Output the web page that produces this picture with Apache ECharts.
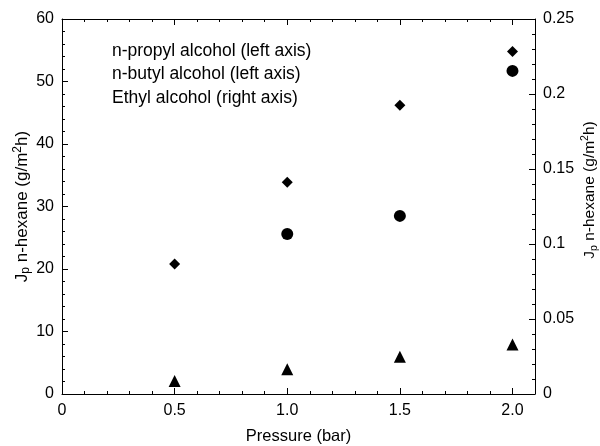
<!DOCTYPE html>
<html>
<head>
<meta charset="utf-8">
<script src="https://cdn.jsdelivr.net/npm/echarts@6/dist/echarts.min.js"></script>
<style>
html, body { margin: 0; padding: 0; background: #fff; }
#main { width: 600px; height: 446px; }
</style>
</head>
<body>
<div id="main"></div>
<script>
var pressure = [0.5, 1.0, 1.5, 2.0];
var propyl = [20.8, 33.9, 46.2, 54.8];
var butyl = [null, 25.6, 28.5, 51.7];
var ethyl = [0.0087, 0.0165, 0.0249, 0.033];
var seriesNames = ['n-propyl alcohol (left axis)', 'n-butyl alcohol (left axis)', 'Ethyl alcohol (right axis)'];
var xTicks = ['0', '0.5', '1.0', '1.5', '2.0'];

var font = 'Liberation Sans, Arial, sans-serif';

// [x, y] pairs, skip missing points
function pairs(ys) {
  var out = [];
  for (var i = 0; i < pressure.length; i++) {
    if (ys[i] != null) out.push([pressure[i], ys[i]]);
  }
  return out;
}

function xLabel(v) {
  var k = Math.round(v / 0.5);
  if (Math.abs(v - k * 0.5) < 1e-6 && k < xTicks.length) return xTicks[k];
  return '';
}

var yName = 'J{sub|p} n-hexane (g/m{sup|2}h)';
function nameStyle(size, pad) {
  return {
    fontSize: size, color: '#000', fontFamily: font, lineHeight: 20,
    padding: pad,
    rich: {
      sub: { fontSize: size - 5, lineHeight: 12, verticalAlign: 'bottom', color: '#000', fontFamily: font },
      sup: { fontSize: size - 5, lineHeight: 12, verticalAlign: 'top', color: '#000', fontFamily: font }
    }
  };
}

// x axis: major ticks and minor ticks done with two axes each side
function xAxisDef(pos, step, len, labels) {
  var a = {
    type: 'value', position: pos, min: 0, max: 2.1, interval: step,
    axisLine: { show: step === 0.5, onZero: false, lineStyle: { color: '#000', width: 1 } },
    axisTick: { show: true, inside: true, length: len, lineStyle: { color: '#000' } },
    axisLabel: { show: labels, formatter: xLabel, margin: 9, color: '#000', fontSize: 16, fontFamily: font },
    splitLine: { show: false }
  };
  if (labels) {
    a.name = 'Pressure (bar)';
    a.nameLocation = 'middle';
    a.nameGap = 34;
    a.nameMoveOverlap = false;
    a.nameTextStyle = { fontSize: 16.5, color: '#000', fontFamily: font };
  }
  return a;
}

var myChart = echarts.init(document.getElementById('main'));
var option = {
  animation: false,
  grid: { left: 62, right: 65, top: 19, bottom: 52, containLabel: false, outerBoundsMode: 'none' },
  legend: {
    orient: 'vertical', left: 102, top: 37,
    icon: 'none', itemWidth: 0, itemHeight: 18, itemGap: 5.5,
    selectedMode: false,
    textStyle: { fontSize: 17.5, color: '#000', fontFamily: font, lineHeight: 18 },
    data: seriesNames
  },
  xAxis: [
    xAxisDef('bottom', 0.5, 6, true),
    xAxisDef('bottom', 0.1, 3, false),
    xAxisDef('top', 0.5, 6, false),
    xAxisDef('top', 0.1, 3, false)
  ],
  yAxis: [
    {
      type: 'value', position: 'left', min: 0, max: 60, interval: 10,
      axisLine: { show: true, onZero: false, lineStyle: { color: '#000' } },
      axisTick: { show: true, inside: true, length: 6, lineStyle: { color: '#000' } },
      minorTick: { show: true, splitNumber: 5, length: 3, lineStyle: { color: '#000' } },
      axisLabel: { margin: 8, color: '#000', fontSize: 16, fontFamily: font },
      splitLine: { show: false },
      name: yName, nameLocation: 'middle', nameGap: 30, nameMoveOverlap: false,
      nameTextStyle: nameStyle(17, 0)
    },
    {
      type: 'value', position: 'right', min: 0, max: 0.25, interval: 0.05,
      axisLine: { show: true, onZero: false, lineStyle: { color: '#000' } },
      axisTick: { show: true, inside: true, length: 6, lineStyle: { color: '#000' } },
      minorTick: { show: true, splitNumber: 5, length: 3, lineStyle: { color: '#000' } },
      axisLabel: { margin: 8, color: '#000', fontSize: 16, fontFamily: font },
      splitLine: { show: false },
      name: yName, nameLocation: 'middle', nameGap: 45, nameMoveOverlap: false,
      nameTextStyle: nameStyle(15.5, [0, 0, 0, 33])
    }
  ],
  series: [
    {
      name: seriesNames[0], type: 'scatter', xAxisIndex: 0, yAxisIndex: 0,
      symbol: 'diamond', symbolSize: [11, 11],
      itemStyle: { color: '#000', opacity: 1 },
      data: pairs(propyl)
    },
    {
      name: seriesNames[1], type: 'scatter', xAxisIndex: 0, yAxisIndex: 0,
      symbol: 'circle', symbolSize: 12,
      itemStyle: { color: '#000', opacity: 1 },
      data: pairs(butyl)
    },
    {
      name: seriesNames[2], type: 'scatter', xAxisIndex: 0, yAxisIndex: 1,
      symbol: 'triangle', symbolSize: 12,
      itemStyle: { color: '#000', opacity: 1 },
      data: pairs(ethyl)
    }
  ]
};
option && myChart.setOption(option);
</script>
</body>
</html>
